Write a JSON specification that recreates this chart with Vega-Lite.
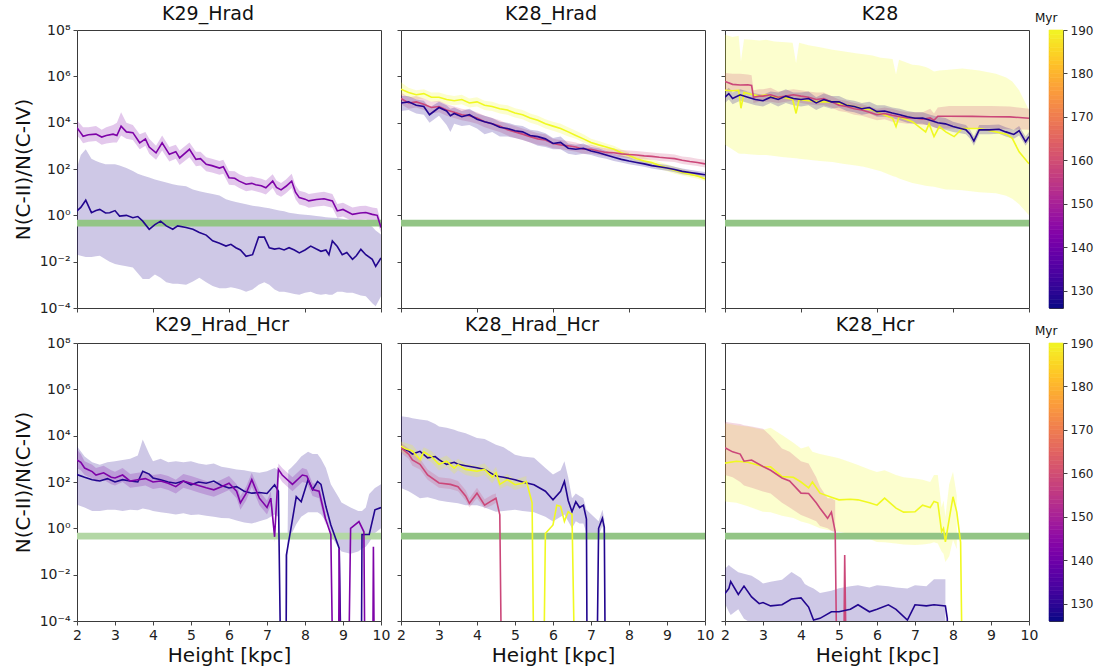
{
"$schema":"https://vega.github.io/schema/vega-lite/v6.json",
"padding":{"left":12,"top":4,"right":5,"bottom":3},
"config":{"font":"DejaVu Sans","view":{"stroke":"#3a3a3a","strokeWidth":1},
"axis":{"grid":false,"domain":false,"tickColor":"#444","tickSize":4,"labelColor":"#222","titleColor":"#111","labelFontSize":14,"titleFontSize":20,"titleFontWeight":"normal","labelPadding":3,"labelOverlap":false},
"axisX":{"labelFontSize":14,"titlePadding":3,"labelOverlap":false},
"axisY":{"titlePadding":6,"labelOverlap":false},
"title":{"fontSize":19,"fontWeight":"normal","color":"#111","offset":6,"frame":"group","baseline":"alphabetic"}},
"columns":4,
"align":"each",
"spacing":{"row":35,"column":20},
"bounds":"flush",
"resolve":{"scale":{"color":"independent"},"legend":{"color":"independent"}},
"datasets":{
"bar":[
{"v":126,"w":127},{"v":127,"w":128},{"v":128,"w":129},{"v":129,"w":130},{"v":130,"w":131},{"v":131,"w":132},{"v":132,"w":133},{"v":133,"w":134},
{"v":134,"w":135},{"v":135,"w":136},{"v":136,"w":137},{"v":137,"w":138},{"v":138,"w":139},{"v":139,"w":140},{"v":140,"w":141},{"v":141,"w":142},
{"v":142,"w":143},{"v":143,"w":144},{"v":144,"w":145},{"v":145,"w":146},{"v":146,"w":147},{"v":147,"w":148},{"v":148,"w":149},{"v":149,"w":150},
{"v":150,"w":151},{"v":151,"w":152},{"v":152,"w":153},{"v":153,"w":154},{"v":154,"w":155},{"v":155,"w":156},{"v":156,"w":157},{"v":157,"w":158},
{"v":158,"w":159},{"v":159,"w":160},{"v":160,"w":161},{"v":161,"w":162},{"v":162,"w":163},{"v":163,"w":164},{"v":164,"w":165},{"v":165,"w":166},
{"v":166,"w":167},{"v":167,"w":168},{"v":168,"w":169},{"v":169,"w":170},{"v":170,"w":171},{"v":171,"w":172},{"v":172,"w":173},{"v":173,"w":174},
{"v":174,"w":175},{"v":175,"w":176},{"v":176,"w":177},{"v":177,"w":178},{"v":178,"w":179},{"v":179,"w":180},{"v":180,"w":181},{"v":181,"w":182},
{"v":182,"w":183},{"v":183,"w":184},{"v":184,"w":185},{"v":185,"w":186},{"v":186,"w":187},{"v":187,"w":188},{"v":188,"w":189},{"v":189,"w":190}
],
"A":[
{"t":142,"x":2,"y":6.0e3,"l":2.8e3,"h":1.26e4},
{"t":142,"x":2.08,"y":4.0e3,"l":2.0e3,"h":8.9e3},
{"t":142,"x":2.16,"y":2.6e3,"l":1.3e3,"h":6.3e3},
{"t":142,"x":2.3,"y":3.0e3,"l":1.5e3,"h":6.3e3},
{"t":142,"x":2.5,"y":3.2e3,"l":1.6e3,"h":7.1e3},
{"t":142,"x":2.65,"y":2.4e3,"l":1.1e3,"h":5.0e3},
{"t":142,"x":2.77,"y":2.8e3,"l":1.26e3,"h":6.3e3},
{"t":142,"x":2.95,"y":3.2e3,"l":1.4e3,"h":7.9e3},
{"t":142,"x":3.05,"y":2.8e3,"l":1.4e3,"h":1.0e4},
{"t":142,"x":3.16,"y":7.1e3,"l":2.8e3,"h":2.8e4},
{"t":142,"x":3.3,"y":4.0e3,"l":2.0e3,"h":1.0e4},
{"t":142,"x":3.47,"y":3.7e3,"l":1.8e3,"h":7.9e3},
{"t":142,"x":3.65,"y":1.35e3,"l":7.1e2,"h":3.2e3},
{"t":142,"x":3.8,"y":2.0e3,"l":1.0e3,"h":4.0e3},
{"t":142,"x":3.9,"y":8.9e2,"l":4.5e2,"h":2.0e3},
{"t":142,"x":4.08,"y":5.0e2,"l":2.5e2,"h":1.0e3},
{"t":142,"x":4.24,"y":1.35e3,"l":6.3e2,"h":2.8e3},
{"t":142,"x":4.43,"y":4.3e2,"l":2.1e2,"h":8.9e2},
{"t":142,"x":4.6,"y":5.6e2,"l":2.8e2,"h":1.1e3},
{"t":142,"x":4.7,"y":3.0e2,"l":1.5e2,"h":6.3e2},
{"t":142,"x":4.96,"y":7.1e2,"l":3.2e2,"h":1.4e3},
{"t":142,"x":5.13,"y":2.6e2,"l":1.3e2,"h":5.6e2},
{"t":142,"x":5.25,"y":2.8e2,"l":1.4e2,"h":5.6e2},
{"t":142,"x":5.4,"y":1.6e2,"l":79,"h":3.2e2},
{"t":142,"x":5.55,"y":1.4e2,"l":71,"h":2.8e2},
{"t":142,"x":5.75,"y":1.1e2,"l":56,"h":2.2e2},
{"t":142,"x":5.85,"y":1.26e2,"l":63,"h":2.5e2},
{"t":142,"x":6.0,"y":42,"l":21,"h":83},
{"t":142,"x":6.15,"y":40,"l":20,"h":79},
{"t":142,"x":6.27,"y":30,"l":15,"h":59},
{"t":142,"x":6.45,"y":22,"l":11,"h":45},
{"t":142,"x":6.6,"y":24,"l":12,"h":48},
{"t":142,"x":6.7,"y":21,"l":11,"h":43},
{"t":142,"x":6.85,"y":19,"l":9.5,"h":38},
{"t":142,"x":6.97,"y":15.5,"l":7.9,"h":32},
{"t":142,"x":7.15,"y":30,"l":15,"h":60},
{"t":142,"x":7.25,"y":16,"l":7.9,"h":32},
{"t":142,"x":7.37,"y":12.6,"l":6.3,"h":25},
{"t":142,"x":7.5,"y":18,"l":8.9,"h":35},
{"t":142,"x":7.65,"y":30,"l":15,"h":63},
{"t":142,"x":7.75,"y":10,"l":5,"h":20},
{"t":142,"x":7.85,"y":5.8,"l":2.9,"h":11.5},
{"t":142,"x":8.0,"y":5.0,"l":2.5,"h":10},
{"t":142,"x":8.1,"y":4.2,"l":2.1,"h":8.3},
{"t":142,"x":8.3,"y":4.8,"l":2.4,"h":9.5},
{"t":142,"x":8.5,"y":5.2,"l":2.6,"h":10.5},
{"t":142,"x":8.72,"y":4.2,"l":2.1,"h":8.3},
{"t":142,"x":8.85,"y":1.55,"l":0.78,"h":3.1},
{"t":142,"x":9.0,"y":1.8,"l":0.89,"h":3.5},
{"t":142,"x":9.25,"y":1.1,"l":0.55,"h":2.2},
{"t":142,"x":9.45,"y":1.26,"l":0.63,"h":2.5},
{"t":142,"x":9.6,"y":1.32,"l":0.66,"h":2.6},
{"t":142,"x":9.77,"y":1.1,"l":0.55,"h":2.2},
{"t":142,"x":9.9,"y":1.0,"l":0.5,"h":2.0},
{"t":142,"x":10,"y":0.3,"l":0.18,"h":0.5},
{"t":128,"x":2,"y":1.55,"l":0.02,"h":115},
{"t":128,"x":2.1,"y":2.2,"l":0.018,"h":400},
{"t":128,"x":2.23,"y":4.5,"l":0.016,"h":710},
{"t":128,"x":2.38,"y":1.3,"l":0.016,"h":280},
{"t":128,"x":2.5,"y":1.6,"l":0.017,"h":220},
{"t":128,"x":2.6,"y":1.8,"l":0.018,"h":190},
{"t":128,"x":2.75,"y":1.26,"l":0.0126,"h":160},
{"t":128,"x":2.86,"y":1.3,"l":0.01,"h":160},
{"t":128,"x":3.0,"y":1.6,"l":0.0079,"h":160},
{"t":128,"x":3.12,"y":0.93,"l":0.0071,"h":140},
{"t":128,"x":3.3,"y":1.0,"l":0.0063,"h":110},
{"t":128,"x":3.47,"y":0.79,"l":0.0056,"h":83},
{"t":128,"x":3.6,"y":0.89,"l":0.0032,"h":63},
{"t":128,"x":3.73,"y":0.56,"l":0.0018,"h":52},
{"t":128,"x":3.9,"y":0.25,"l":0.0018,"h":43},
{"t":128,"x":4.05,"y":0.4,"l":0.0028,"h":35},
{"t":128,"x":4.2,"y":0.56,"l":0.002,"h":30},
{"t":128,"x":4.35,"y":0.35,"l":0.0013,"h":26},
{"t":128,"x":4.52,"y":0.25,"l":0.0011,"h":22},
{"t":128,"x":4.65,"y":0.35,"l":0.0011,"h":20},
{"t":128,"x":4.87,"y":0.3,"l":0.001,"h":18},
{"t":128,"x":5.05,"y":0.25,"l":0.0014,"h":13},
{"t":128,"x":5.22,"y":0.18,"l":0.002,"h":11},
{"t":128,"x":5.4,"y":0.14,"l":0.0013,"h":9.5},
{"t":128,"x":5.57,"y":0.079,"l":0.00089,"h":8.3},
{"t":128,"x":5.75,"y":0.063,"l":0.00072,"h":7.1},
{"t":128,"x":5.92,"y":0.047,"l":0.00072,"h":5},
{"t":128,"x":6.05,"y":0.056,"l":0.00079,"h":4.3},
{"t":128,"x":6.18,"y":0.04,"l":0.00071,"h":3.8},
{"t":128,"x":6.3,"y":0.032,"l":0.00063,"h":3.4},
{"t":128,"x":6.45,"y":0.017,"l":0.0005,"h":3.0},
{"t":128,"x":6.62,"y":0.02,"l":0.00063,"h":2.6},
{"t":128,"x":6.78,"y":0.115,"l":0.001,"h":2.4},
{"t":128,"x":6.93,"y":0.115,"l":0.0013,"h":2.2},
{"t":128,"x":7.06,"y":0.04,"l":0.001,"h":2.0},
{"t":128,"x":7.2,"y":0.035,"l":0.00063,"h":1.8},
{"t":128,"x":7.32,"y":0.038,"l":0.0005,"h":1.6},
{"t":128,"x":7.45,"y":0.032,"l":0.0005,"h":1.5},
{"t":128,"x":7.58,"y":0.04,"l":0.00045,"h":1.3},
{"t":128,"x":7.72,"y":0.032,"l":0.0004,"h":1.2},
{"t":128,"x":7.85,"y":0.024,"l":0.00037,"h":1.1},
{"t":128,"x":8.0,"y":0.032,"l":0.00045,"h":1.05},
{"t":128,"x":8.15,"y":0.047,"l":0.0005,"h":1.0},
{"t":128,"x":8.3,"y":0.035,"l":0.0004,"h":0.93},
{"t":128,"x":8.42,"y":0.028,"l":0.00037,"h":0.89},
{"t":128,"x":8.55,"y":0.032,"l":0.0004,"h":0.83},
{"t":128,"x":8.63,"y":0.02,"l":0.00037,"h":0.81},
{"t":128,"x":8.72,"y":0.079,"l":0.00037,"h":0.79},
{"t":128,"x":8.85,"y":0.045,"l":0.0005,"h":0.76},
{"t":128,"x":8.98,"y":0.02,"l":0.0005,"h":0.71},
{"t":128,"x":9.1,"y":0.025,"l":0.00045,"h":0.66},
{"t":128,"x":9.25,"y":0.0126,"l":0.00045,"h":0.63},
{"t":128,"x":9.35,"y":0.018,"l":0.0004,"h":0.56},
{"t":128,"x":9.47,"y":0.034,"l":0.00035,"h":0.52},
{"t":128,"x":9.6,"y":0.02,"l":0.00032,"h":0.48},
{"t":128,"x":9.77,"y":0.0126,"l":0.00016,"h":0.32},
{"t":128,"x":9.86,"y":0.0063,"l":0.00012,"h":0.22},
{"t":128,"x":10,"y":0.0145,"l":0.00032,"h":0.15}
],
"B":[
{"t":190,"x":2,"y":2.8e5,"l":1.6e5,"h":5.6e5},
{"t":190,"x":2.2,"y":2.0e5,"l":1.26e5,"h":3.2e5},
{"t":190,"x":2.4,"y":1.6e5,"l":1.0e5,"h":2.5e5},
{"t":190,"x":2.6,"y":1.8e5,"l":1.1e5,"h":2.8e5},
{"t":190,"x":2.8,"y":1.26e5,"l":7.9e4,"h":2.0e5},
{"t":190,"x":3.0,"y":1.26e5,"l":7.9e4,"h":2.0e5},
{"t":190,"x":3.2,"y":1.0e5,"l":6.3e4,"h":1.6e5},
{"t":190,"x":3.4,"y":8.9e4,"l":5.6e4,"h":1.4e5},
{"t":190,"x":3.6,"y":1.0e5,"l":6.3e4,"h":1.6e5},
{"t":190,"x":3.8,"y":7.1e4,"l":4.5e4,"h":1.1e5},
{"t":190,"x":4.0,"y":7.9e4,"l":5.0e4,"h":1.26e5},
{"t":190,"x":4.2,"y":5.6e4,"l":3.5e4,"h":8.9e4},
{"t":190,"x":4.4,"y":5.0e4,"l":3.2e4,"h":7.9e4},
{"t":190,"x":4.6,"y":4.0e4,"l":2.5e4,"h":6.3e4},
{"t":190,"x":4.8,"y":3.5e4,"l":2.2e4,"h":5.6e4},
{"t":190,"x":5.0,"y":2.6e4,"l":1.66e4,"h":4.2e4},
{"t":190,"x":5.2,"y":2.2e4,"l":1.4e4,"h":3.5e4},
{"t":190,"x":5.4,"y":1.6e4,"l":1.0e4,"h":2.5e4},
{"t":190,"x":5.6,"y":1.26e4,"l":7.9e3,"h":2.0e4},
{"t":190,"x":5.8,"y":8.9e3,"l":5.6e3,"h":1.4e4},
{"t":190,"x":6.0,"y":7.1e3,"l":4.5e3,"h":1.1e4},
{"t":190,"x":6.2,"y":5.6e3,"l":3.5e3,"h":8.9e3},
{"t":190,"x":6.4,"y":4.0e3,"l":2.5e3,"h":6.3e3},
{"t":190,"x":6.6,"y":2.8e3,"l":2.0e3,"h":4.5e3},
{"t":190,"x":6.8,"y":2.0e3,"l":1.4e3,"h":3.2e3},
{"t":190,"x":7.0,"y":1.4e3,"l":1.0e3,"h":2.0e3},
{"t":190,"x":7.2,"y":1.1e3,"l":7.9e2,"h":1.6e3},
{"t":190,"x":7.4,"y":8.9e2,"l":6.3e2,"h":1.26e3},
{"t":190,"x":7.6,"y":7.1e2,"l":5.0e2,"h":1.0e3},
{"t":190,"x":7.8,"y":5.0e2,"l":3.5e2,"h":7.1e2},
{"t":190,"x":8.0,"y":3.8e2,"l":2.8e2,"h":5.2e2},
{"t":190,"x":8.2,"y":2.8e2,"l":2.0e2,"h":4.0e2},
{"t":190,"x":8.4,"y":2.2e2,"l":1.6e2,"h":3.2e2},
{"t":190,"x":8.6,"y":1.9e2,"l":1.4e2,"h":2.6e2},
{"t":190,"x":8.8,"y":1.4e2,"l":1.0e2,"h":2.0e2},
{"t":190,"x":9.0,"y":1.1e2,"l":79,"h":1.6e2},
{"t":190,"x":9.2,"y":89,"l":63,"h":1.26e2},
{"t":190,"x":9.4,"y":71,"l":52,"h":1.0e2},
{"t":190,"x":9.6,"y":60,"l":45,"h":83},
{"t":190,"x":9.8,"y":50,"l":38,"h":66},
{"t":190,"x":10,"y":38,"l":30,"h":50},
{"t":158,"x":2,"y":1.1e5,"l":6.3e4,"h":2.0e5},
{"t":158,"x":2.2,"y":7.1e4,"l":4.0e4,"h":1.26e5},
{"t":158,"x":2.4,"y":7.9e4,"l":4.5e4,"h":1.4e5},
{"t":158,"x":2.6,"y":6.3e4,"l":3.5e4,"h":1.1e5},
{"t":158,"x":2.8,"y":4.5e4,"l":2.5e4,"h":7.9e4},
{"t":158,"x":3.0,"y":5.0e4,"l":2.8e4,"h":8.9e4},
{"t":158,"x":3.2,"y":3.5e4,"l":2.0e4,"h":6.3e4},
{"t":158,"x":3.4,"y":2.8e4,"l":1.6e4,"h":5.0e4},
{"t":158,"x":3.6,"y":2.2e4,"l":1.26e4,"h":4.0e4},
{"t":158,"x":3.8,"y":2.0e4,"l":1.1e4,"h":3.5e4},
{"t":158,"x":4.0,"y":1.6e4,"l":8.9e3,"h":2.8e4},
{"t":158,"x":4.2,"y":1.1e4,"l":6.3e3,"h":2.0e4},
{"t":158,"x":4.4,"y":8.9e3,"l":5.0e3,"h":1.6e4},
{"t":158,"x":4.6,"y":7.1e3,"l":4.0e3,"h":1.26e4},
{"t":158,"x":4.8,"y":5.0e3,"l":2.8e3,"h":8.9e3},
{"t":158,"x":5.0,"y":4.0e3,"l":2.2e3,"h":7.1e3},
{"t":158,"x":5.2,"y":3.2e3,"l":1.8e3,"h":5.6e3},
{"t":158,"x":5.4,"y":2.5e3,"l":1.4e3,"h":4.5e3},
{"t":158,"x":5.6,"y":2.0e3,"l":1.1e3,"h":3.5e3},
{"t":158,"x":5.8,"y":1.8e3,"l":1.0e3,"h":3.2e3},
{"t":158,"x":6.0,"y":1.26e3,"l":7.9e2,"h":2.0e3},
{"t":158,"x":6.2,"y":1.1e3,"l":7.1e2,"h":1.8e3},
{"t":158,"x":6.4,"y":1.0e3,"l":6.3e2,"h":1.6e3},
{"t":158,"x":6.6,"y":8.9e2,"l":5.6e2,"h":1.4e3},
{"t":158,"x":6.8,"y":7.1e2,"l":4.5e2,"h":1.1e3},
{"t":158,"x":7.0,"y":7.1e2,"l":4.5e2,"h":1.1e3},
{"t":158,"x":7.2,"y":6.0e2,"l":4.0e2,"h":8.9e2},
{"t":158,"x":7.4,"y":5.2e2,"l":3.5e2,"h":7.9e2},
{"t":158,"x":7.6,"y":5.0e2,"l":3.5e2,"h":7.6e2},
{"t":158,"x":7.8,"y":4.5e2,"l":3.2e2,"h":6.6e2},
{"t":158,"x":8.0,"y":4.2e2,"l":3.0e2,"h":6.3e2},
{"t":158,"x":8.2,"y":4.0e2,"l":2.8e2,"h":6.0e2},
{"t":158,"x":8.4,"y":3.7e2,"l":2.6e2,"h":5.6e2},
{"t":158,"x":8.6,"y":3.5e2,"l":2.5e2,"h":5.2e2},
{"t":158,"x":8.8,"y":3.2e2,"l":2.2e2,"h":4.8e2},
{"t":158,"x":9.0,"y":3.0e2,"l":2.1e2,"h":4.5e2},
{"t":158,"x":9.2,"y":2.8e2,"l":2.0e2,"h":4.2e2},
{"t":158,"x":9.4,"y":2.4e2,"l":1.66e2,"h":3.5e2},
{"t":158,"x":9.6,"y":2.1e2,"l":1.5e2,"h":3.2e2},
{"t":158,"x":9.8,"y":1.9e2,"l":1.35e2,"h":2.8e2},
{"t":158,"x":10,"y":1.66e2,"l":1.17e2,"h":2.5e2},
{"t":128,"x":2,"y":7.1e4,"l":3.2e4,"h":1.4e5},
{"t":128,"x":2.2,"y":7.9e4,"l":3.5e4,"h":1.4e5},
{"t":128,"x":2.4,"y":5.6e4,"l":2.5e4,"h":1.0e5},
{"t":128,"x":2.6,"y":5.0e4,"l":2.2e4,"h":8.9e4},
{"t":128,"x":2.75,"y":2.2e4,"l":1.0e4,"h":4.5e4},
{"t":128,"x":3.0,"y":4.5e4,"l":2.0e4,"h":7.9e4},
{"t":128,"x":3.2,"y":3.2e4,"l":7.9e3,"h":5.6e4},
{"t":128,"x":3.3,"y":2.0e4,"l":4.0e3,"h":4.0e4},
{"t":128,"x":3.4,"y":2.5e4,"l":8.9e3,"h":4.5e4},
{"t":128,"x":3.6,"y":1.8e4,"l":7.1e3,"h":3.2e4},
{"t":128,"x":3.8,"y":2.2e4,"l":7.9e3,"h":4.0e4},
{"t":128,"x":4.0,"y":1.4e4,"l":5.6e3,"h":2.5e4},
{"t":128,"x":4.2,"y":1.1e4,"l":3.2e3,"h":2.0e4},
{"t":128,"x":4.4,"y":8.9e3,"l":4.0e3,"h":1.6e4},
{"t":128,"x":4.6,"y":6.3e3,"l":2.5e3,"h":1.1e4},
{"t":128,"x":4.8,"y":5.6e3,"l":2.5e3,"h":1.0e4},
{"t":128,"x":5.0,"y":4.5e3,"l":2.2e3,"h":7.9e3},
{"t":128,"x":5.2,"y":4.0e3,"l":1.8e3,"h":7.1e3},
{"t":128,"x":5.4,"y":2.8e3,"l":1.4e3,"h":5.0e3},
{"t":128,"x":5.6,"y":2.5e3,"l":1.0e3,"h":4.5e3},
{"t":128,"x":5.8,"y":2.0e3,"l":8.9e2,"h":3.5e3},
{"t":128,"x":6.0,"y":1.26e3,"l":7.1e2,"h":2.2e3},
{"t":128,"x":6.2,"y":1.4e3,"l":7.1e2,"h":2.5e3},
{"t":128,"x":6.4,"y":7.9e2,"l":4.5e2,"h":1.26e3},
{"t":128,"x":6.6,"y":7.1e2,"l":4.0e2,"h":1.1e3},
{"t":128,"x":6.8,"y":7.9e2,"l":4.5e2,"h":1.26e3},
{"t":128,"x":7.0,"y":6.0e2,"l":4.0e2,"h":8.9e2},
{"t":128,"x":7.2,"y":5.0e2,"l":3.2e2,"h":7.9e2},
{"t":128,"x":7.4,"y":4.0e2,"l":2.8e2,"h":6.0e2},
{"t":128,"x":7.6,"y":3.2e2,"l":2.2e2,"h":4.5e2},
{"t":128,"x":7.8,"y":2.6e2,"l":1.9e2,"h":3.8e2},
{"t":128,"x":8.0,"y":2.2e2,"l":1.6e2,"h":3.2e2},
{"t":128,"x":8.2,"y":1.9e2,"l":1.4e2,"h":2.6e2},
{"t":128,"x":8.4,"y":1.66e2,"l":1.26e2,"h":2.3e2},
{"t":128,"x":8.6,"y":1.4e2,"l":1.05e2,"h":1.9e2},
{"t":128,"x":8.8,"y":1.26e2,"l":93,"h":1.66e2},
{"t":128,"x":9.0,"y":1.1e2,"l":85,"h":1.5e2},
{"t":128,"x":9.2,"y":95,"l":72,"h":1.26e2},
{"t":128,"x":9.4,"y":79,"l":60,"h":1.05e2},
{"t":128,"x":9.6,"y":71,"l":54,"h":93},
{"t":128,"x":9.8,"y":63,"l":48,"h":83},
{"t":128,"x":10,"y":56,"l":43,"h":74}
],
"C":[
{"t":190,"x":2,"y":2.5e5,"l":1.1e3,"h":6.3e7},
{"t":190,"x":2.2,"y":2.4e5,"l":7.0e2,"h":5.0e7},
{"t":190,"x":2.36,"y":2.5e5,"l":4.7e2,"h":5.6e7},
{"t":190,"x":2.42,"y":4.2e4,"l":4.6e2,"h":4.5e6},
{"t":190,"x":2.5,"y":2.0e5,"l":4.5e2,"h":4.0e7},
{"t":190,"x":2.7,"y":1.66e5,"l":4.2e2,"h":3.8e7},
{"t":190,"x":2.9,"y":1.4e5,"l":4.0e2,"h":3.5e7},
{"t":190,"x":3.08,"y":1.6e5,"l":4.0e2,"h":3.8e7},
{"t":190,"x":3.3,"y":1.26e5,"l":3.6e2,"h":3.2e7},
{"t":190,"x":3.5,"y":1.3e5,"l":3.3e2,"h":3.0e7},
{"t":190,"x":3.78,"y":1.0e5,"l":3.0e2,"h":2.8e7},
{"t":190,"x":3.87,"y":2.5e4,"l":2.9e2,"h":3.7e6},
{"t":190,"x":3.95,"y":1.0e5,"l":2.8e2,"h":2.8e7},
{"t":190,"x":4.2,"y":8.9e4,"l":2.5e2,"h":2.2e7},
{"t":190,"x":4.5,"y":7.9e4,"l":2.2e2,"h":1.8e7},
{"t":190,"x":4.83,"y":8.1e4,"l":2.0e2,"h":1.4e7},
{"t":190,"x":5.1,"y":6.3e4,"l":1.7e2,"h":1.2e7},
{"t":190,"x":5.44,"y":4.9e4,"l":1.4e2,"h":1.0e7},
{"t":190,"x":5.65,"y":4.0e4,"l":1.26e2,"h":8.9e6},
{"t":190,"x":5.88,"y":3.5e4,"l":1.0e2,"h":7.9e6},
{"t":190,"x":6.1,"y":2.5e4,"l":79,"h":6.3e6},
{"t":190,"x":6.41,"y":1.55e4,"l":50,"h":5.6e6},
{"t":190,"x":6.5,"y":6.8e3,"l":45,"h":1.2e6},
{"t":190,"x":6.58,"y":1.8e4,"l":39,"h":5.2e6},
{"t":190,"x":6.93,"y":1.1e4,"l":25,"h":3.2e6},
{"t":190,"x":7.1,"y":6.8e3,"l":22,"h":3.0e6},
{"t":190,"x":7.28,"y":4.0e3,"l":19,"h":2.5e6},
{"t":190,"x":7.37,"y":8.9e3,"l":18,"h":2.2e6},
{"t":190,"x":7.5,"y":2.5e3,"l":17,"h":1.6e6},
{"t":190,"x":7.64,"y":6.8e3,"l":15,"h":1.8e6},
{"t":190,"x":7.81,"y":4.0e3,"l":13,"h":1.9e6},
{"t":190,"x":8.03,"y":2.5e3,"l":12.6,"h":2.0e6},
{"t":190,"x":8.25,"y":5.6e3,"l":12,"h":2.2e6},
{"t":190,"x":8.69,"y":5.6e3,"l":10,"h":1.8e6},
{"t":190,"x":9.13,"y":4.0e3,"l":8.9,"h":1.3e6},
{"t":190,"x":9.4,"y":3.2e3,"l":7,"h":8.9e5},
{"t":190,"x":9.56,"y":2.1e3,"l":5.2,"h":6.0e5},
{"t":190,"x":9.74,"y":5.5e2,"l":3,"h":2.5e5},
{"t":190,"x":10,"y":1.7e2,"l":1,"h":3.5e4},
{"t":158,"x":2,"y":6.0e5,"l":2.2e5,"h":1.4e6},
{"t":158,"x":2.2,"y":4.5e5,"l":2.2e5,"h":1.3e6},
{"t":158,"x":2.4,"y":4.2e5,"l":2.2e5,"h":1.3e6},
{"t":158,"x":2.6,"y":4.3e5,"l":2.2e5,"h":1.2e6},
{"t":158,"x":2.7,"y":4.0e5,"l":2.0e5,"h":1.1e6},
{"t":158,"x":2.75,"y":1.26e5,"l":7.1e4,"h":2.5e5},
{"t":158,"x":2.9,"y":1.4e5,"l":7.9e4,"h":2.8e5},
{"t":158,"x":3.0,"y":1.4e5,"l":7.9e4,"h":2.8e5},
{"t":158,"x":3.2,"y":1.6e5,"l":7.9e4,"h":3.2e5},
{"t":158,"x":3.4,"y":1.26e5,"l":7.1e4,"h":2.2e5},
{"t":158,"x":3.6,"y":1.4e5,"l":7.9e4,"h":2.5e5},
{"t":158,"x":3.8,"y":1.6e5,"l":8.9e4,"h":2.8e5},
{"t":158,"x":4.0,"y":1.4e5,"l":7.1e4,"h":2.5e5},
{"t":158,"x":4.2,"y":1.26e5,"l":6.3e4,"h":2.2e5},
{"t":158,"x":4.4,"y":1.0e5,"l":5.6e4,"h":2.0e5},
{"t":158,"x":4.6,"y":1.1e5,"l":5.6e4,"h":2.0e5},
{"t":158,"x":4.8,"y":7.9e4,"l":4.5e4,"h":1.4e5},
{"t":158,"x":5.0,"y":5.6e4,"l":3.2e4,"h":1.0e5},
{"t":158,"x":5.2,"y":5.0e4,"l":2.8e4,"h":8.9e4},
{"t":158,"x":5.4,"y":4.0e4,"l":2.2e4,"h":7.1e4},
{"t":158,"x":5.6,"y":3.5e4,"l":2.0e4,"h":6.3e4},
{"t":158,"x":5.8,"y":2.8e4,"l":1.6e4,"h":5.0e4},
{"t":158,"x":6.0,"y":2.2e4,"l":1.26e4,"h":4.0e4},
{"t":158,"x":6.2,"y":2.5e4,"l":1.4e4,"h":4.5e4},
{"t":158,"x":6.4,"y":2.1e4,"l":1.1e4,"h":4.0e4},
{"t":158,"x":6.6,"y":1.8e4,"l":1.0e4,"h":3.2e4},
{"t":158,"x":6.8,"y":1.6e4,"l":8.9e3,"h":2.8e4},
{"t":158,"x":7.0,"y":1.6e4,"l":8.9e3,"h":2.8e4},
{"t":158,"x":7.2,"y":1.4e4,"l":7.9e3,"h":2.8e4},
{"t":158,"x":7.4,"y":1.6e4,"l":7.9e3,"h":4.0e4},
{"t":158,"x":7.5,"y":1.26e4,"l":6.3e3,"h":2.5e4},
{"t":158,"x":7.6,"y":1.9e4,"l":5.6e3,"h":4.5e4},
{"t":158,"x":7.9,"y":1.9e4,"l":5.6e3,"h":5.2e4},
{"t":158,"x":8.5,"y":1.86e4,"l":5.6e3,"h":5.2e4},
{"t":158,"x":9.0,"y":1.8e4,"l":5.6e3,"h":5.2e4},
{"t":158,"x":9.5,"y":1.78e4,"l":5.2e3,"h":5.0e4},
{"t":158,"x":10,"y":1.55e4,"l":5.0e3,"h":4.0e4},
{"t":128,"x":2,"y":1.26e5,"l":7.1e4,"h":2.2e5},
{"t":128,"x":2.1,"y":1.8e5,"l":1.0e5,"h":3.2e5},
{"t":128,"x":2.2,"y":1.1e5,"l":6.3e4,"h":2.0e5},
{"t":128,"x":2.4,"y":1.6e5,"l":8.9e4,"h":2.8e5},
{"t":128,"x":2.6,"y":1.26e5,"l":7.1e4,"h":2.2e5},
{"t":128,"x":2.8,"y":1.0e5,"l":5.6e4,"h":1.8e5},
{"t":128,"x":3.0,"y":8.9e4,"l":5.0e4,"h":1.6e5},
{"t":128,"x":3.2,"y":1.26e5,"l":7.1e4,"h":2.2e5},
{"t":128,"x":3.4,"y":1.0e5,"l":5.0e4,"h":2.0e5},
{"t":128,"x":3.6,"y":1.4e5,"l":7.1e4,"h":2.8e5},
{"t":128,"x":3.8,"y":1.1e5,"l":5.6e4,"h":2.0e5},
{"t":128,"x":4.0,"y":1.0e5,"l":5.0e4,"h":2.0e5},
{"t":128,"x":4.2,"y":1.1e5,"l":5.6e4,"h":2.2e5},
{"t":128,"x":4.4,"y":7.1e4,"l":3.5e4,"h":1.26e5},
{"t":128,"x":4.6,"y":1.0e5,"l":5.0e4,"h":1.8e5},
{"t":128,"x":4.8,"y":7.9e4,"l":4.0e4,"h":1.4e5},
{"t":128,"x":5.0,"y":7.9e4,"l":4.5e4,"h":1.4e5},
{"t":128,"x":5.2,"y":5.6e4,"l":3.2e4,"h":1.0e5},
{"t":128,"x":5.4,"y":5.0e4,"l":2.8e4,"h":8.9e4},
{"t":128,"x":5.6,"y":4.0e4,"l":2.2e4,"h":7.1e4},
{"t":128,"x":5.8,"y":4.5e4,"l":2.5e4,"h":7.9e4},
{"t":128,"x":6.0,"y":3.0e4,"l":1.8e4,"h":5.6e4},
{"t":128,"x":6.2,"y":3.2e4,"l":1.8e4,"h":5.6e4},
{"t":128,"x":6.4,"y":2.6e4,"l":1.6e4,"h":4.5e4},
{"t":128,"x":6.6,"y":2.2e4,"l":1.26e4,"h":4.0e4},
{"t":128,"x":6.8,"y":1.8e4,"l":1.0e4,"h":3.2e4},
{"t":128,"x":7.0,"y":1.55e4,"l":8.9e3,"h":2.8e4},
{"t":128,"x":7.2,"y":1.6e4,"l":8.9e3,"h":2.8e4},
{"t":128,"x":7.4,"y":1.26e4,"l":7.1e3,"h":2.2e4},
{"t":128,"x":7.6,"y":1.0e4,"l":5.6e3,"h":1.8e4},
{"t":128,"x":7.8,"y":8.9e3,"l":5.0e3,"h":1.6e4},
{"t":128,"x":8.0,"y":6.8e3,"l":4.0e3,"h":1.1e4},
{"t":128,"x":8.2,"y":5.6e3,"l":3.5e3,"h":8.9e3},
{"t":128,"x":8.34,"y":4.9e3,"l":3.2e3,"h":7.9e3},
{"t":128,"x":8.45,"y":3.2e3,"l":2.0e3,"h":5.0e3},
{"t":128,"x":8.55,"y":1.6e3,"l":1.0e3,"h":2.5e3},
{"t":128,"x":8.69,"y":4.9e3,"l":3.2e3,"h":7.9e3},
{"t":128,"x":8.95,"y":4.9e3,"l":3.2e3,"h":7.9e3},
{"t":128,"x":9.21,"y":5.2e3,"l":3.3e3,"h":8.3e3},
{"t":128,"x":9.39,"y":4.0e3,"l":2.5e3,"h":6.3e3},
{"t":128,"x":9.6,"y":3.1e3,"l":2.0e3,"h":5.0e3},
{"t":128,"x":9.74,"y":4.5e3,"l":2.8e3,"h":7.1e3},
{"t":128,"x":9.91,"y":1.5e3,"l":1.0e3,"h":2.5e3},
{"t":128,"x":10,"y":2.5e3,"l":1.6e3,"h":4.0e3}
],
"D":[
{"t":128,"x":2,"y":210,"l":10.5,"h":3500},
{"t":128,"x":2.2,"y":160,"l":7.9,"h":1260},
{"t":128,"x":2.4,"y":126,"l":5.6,"h":710},
{"t":128,"x":2.6,"y":110,"l":5.6,"h":560},
{"t":128,"x":2.8,"y":140,"l":6.3,"h":710},
{"t":128,"x":3.0,"y":100,"l":6.3,"h":790},
{"t":128,"x":3.2,"y":126,"l":5.6,"h":890},
{"t":128,"x":3.4,"y":110,"l":6.3,"h":1000},
{"t":128,"x":3.6,"y":100,"l":6,"h":1400},
{"t":128,"x":3.73,"y":290,"l":7.1,"h":6800},
{"t":128,"x":3.9,"y":220,"l":6.3,"h":1600},
{"t":128,"x":4.0,"y":150,"l":5.6,"h":790},
{"t":128,"x":4.2,"y":126,"l":5,"h":1000},
{"t":128,"x":4.4,"y":100,"l":4.5,"h":710},
{"t":128,"x":4.6,"y":89,"l":4,"h":790},
{"t":128,"x":4.8,"y":110,"l":4.5,"h":710},
{"t":128,"x":5.0,"y":76,"l":3.8,"h":790},
{"t":128,"x":5.2,"y":100,"l":4,"h":630},
{"t":128,"x":5.4,"y":89,"l":3.5,"h":560},
{"t":128,"x":5.6,"y":110,"l":3.2,"h":630},
{"t":128,"x":5.8,"y":71,"l":2.8,"h":450},
{"t":128,"x":6.0,"y":55,"l":2.7,"h":400},
{"t":128,"x":6.2,"y":63,"l":2.2,"h":350},
{"t":128,"x":6.4,"y":40,"l":1.8,"h":320},
{"t":128,"x":6.6,"y":33,"l":1.6,"h":280},
{"t":128,"x":6.8,"y":35,"l":2,"h":250},
{"t":128,"x":7.0,"y":32,"l":2.5,"h":290},
{"t":128,"x":7.2,"y":76,"l":4,"h":400},
{"t":128,"x":7.3,"y":40,"l":3.2,"h":320},
{"t":128,"x":7.37,"y":1e-7,"l":1e-7,"h":1e-7},
{"t":128,"x":7.5,"y":1e-7,"l":1e-7,"h":1e-7},
{"t":128,"x":7.51,"y":0.07},
{"t":128,"x":7.56,"l":0.32,"h":320},
{"t":128,"x":7.63,"y":1.0,"l":0.5,"h":400},
{"t":128,"x":7.77,"y":23,"l":1.5,"h":700},
{"t":128,"x":7.9,"y":14,"l":3.2,"h":1260},
{"t":128,"x":8.08,"y":126,"l":5,"h":2000},
{"t":128,"x":8.2,"y":47,"l":5,"h":1600},
{"t":128,"x":8.33,"y":105,"l":5,"h":1600},
{"t":128,"x":8.42,"y":79,"l":4,"h":1000},
{"t":128,"x":8.55,"y":8.7,"l":2,"h":400},
{"t":128,"x":8.68,"y":1.4,"l":0.5,"h":80},
{"t":128,"x":8.9,"y":0.135,"l":0.13,"h":20},
{"t":128,"x":8.96,"y":1e-7,"l":0.1,"h":13},
{"t":128,"x":9.2,"l":0.08,"h":8},
{"t":128,"x":9.4,"l":0.1,"h":5.6},
{"t":128,"x":9.48,"y":1e-7},
{"t":128,"x":9.5,"y":0.54,"l":0.13,"h":5.6},
{"t":128,"x":9.6,"l":0.16,"h":8},
{"t":128,"x":9.69,"y":0.54,"l":0.25,"h":30},
{"t":128,"x":9.84,"y":6.3,"l":0.63,"h":55},
{"t":128,"x":10,"y":7.9,"l":1.0,"h":79},
{"t":142,"x":2,"y":890,"l":400,"h":2500},
{"t":142,"x":2.1,"y":710,"l":320,"h":1600},
{"t":142,"x":2.2,"y":400,"l":200,"h":790},
{"t":142,"x":2.4,"y":280,"l":140,"h":560},
{"t":142,"x":2.5,"y":200,"l":100,"h":400},
{"t":142,"x":2.7,"y":250,"l":126,"h":500},
{"t":142,"x":2.9,"y":160,"l":79,"h":320},
{"t":142,"x":3.0,"y":150,"l":71,"h":280},
{"t":142,"x":3.2,"y":200,"l":100,"h":400},
{"t":142,"x":3.4,"y":110,"l":56,"h":220},
{"t":142,"x":3.6,"y":126,"l":63,"h":250},
{"t":142,"x":3.8,"y":140,"l":71,"h":280},
{"t":142,"x":4.0,"y":100,"l":50,"h":200},
{"t":142,"x":4.2,"y":110,"l":56,"h":220},
{"t":142,"x":4.4,"y":89,"l":45,"h":180},
{"t":142,"x":4.6,"y":63,"l":32,"h":126},
{"t":142,"x":4.8,"y":110,"l":56,"h":220},
{"t":142,"x":5.0,"y":89,"l":45,"h":180},
{"t":142,"x":5.2,"y":71,"l":35,"h":140},
{"t":142,"x":5.4,"y":56,"l":28,"h":110},
{"t":142,"x":5.6,"y":46,"l":23,"h":91},
{"t":142,"x":5.8,"y":63,"l":32,"h":126},
{"t":142,"x":6.0,"y":89,"l":45,"h":180},
{"t":142,"x":6.2,"y":40,"l":20,"h":79},
{"t":142,"x":6.3,"y":12.6,"l":6.3,"h":25},
{"t":142,"x":6.45,"y":32,"l":16,"h":63},
{"t":142,"x":6.6,"y":126,"l":63,"h":250},
{"t":142,"x":6.8,"y":20,"l":10,"h":40},
{"t":142,"x":7.0,"y":7.9,"l":4,"h":16},
{"t":142,"x":7.1,"y":20,"l":10,"h":40},
{"t":142,"x":7.2,"y":0.43,"l":0.25,"h":0.8},
{"t":142,"x":7.3,"y":350,"l":180,"h":630},
{"t":142,"x":7.4,"y":200,"l":100,"h":400},
{"t":142,"x":7.67,"y":79,"l":40,"h":160},
{"t":142,"x":7.93,"y":200,"l":100,"h":400},
{"t":142,"x":8.05,"y":180,"l":89,"h":350},
{"t":142,"x":8.2,"y":47,"l":25,"h":89},
{"t":142,"x":8.37,"y":40,"l":20,"h":79},
{"t":142,"x":8.54,"y":2.6,"l":1.4,"h":5},
{"t":142,"x":8.68,"y":0.54},
{"t":142,"x":8.74,"y":1e-7},
{"t":142,"x":8.88,"y":1e-7},
{"t":142,"x":8.9,"y":0.135},
{"t":142,"x":8.93,"y":1e-7},
{"t":142,"x":9.14,"y":1e-7},
{"t":142,"x":9.2,"y":1.0},
{"t":142,"x":9.42,"y":1.95},
{"t":142,"x":9.55,"y":0.71},
{"t":142,"x":9.58,"y":1e-7},
{"t":142,"x":9.78,"y":1e-7},
{"t":142,"x":9.8,"y":0.16},
{"t":142,"x":9.83,"y":1e-7},
{"t":142,"x":10,"y":1e-7}
],
"E":[
{"t":128,"x":2,"y":3000,"l":55,"h":6.9e4},
{"t":128,"x":2.2,"y":2200,"l":40,"h":6.3e4},
{"t":128,"x":2.3,"y":1600,"l":32,"h":5.6e4},
{"t":128,"x":2.5,"y":2100,"l":20,"h":5.0e4},
{"t":128,"x":2.7,"y":1100,"l":22,"h":4.5e4},
{"t":128,"x":2.9,"y":1260,"l":18,"h":3.2e4},
{"t":128,"x":3.0,"y":930,"l":16,"h":2.5e4},
{"t":128,"x":3.2,"y":580,"l":14,"h":2.2e4},
{"t":128,"x":3.4,"y":710,"l":12.6,"h":1.8e4},
{"t":128,"x":3.5,"y":580,"l":12,"h":1.55e4},
{"t":128,"x":3.7,"y":500,"l":10,"h":1.26e4},
{"t":128,"x":4.0,"y":410,"l":10,"h":7.9e3},
{"t":128,"x":4.2,"y":350,"l":7.9,"h":7.1e3},
{"t":128,"x":4.5,"y":180,"l":5.2,"h":4.1e3},
{"t":128,"x":4.7,"y":160,"l":5.6,"h":3.2e3},
{"t":128,"x":5.0,"y":126,"l":6.3,"h":1.5e3},
{"t":128,"x":5.2,"y":100,"l":5.6,"h":1.26e3},
{"t":128,"x":5.5,"y":76,"l":5,"h":1.1e3},
{"t":128,"x":5.8,"y":40,"l":3.2,"h":400},
{"t":128,"x":6.0,"y":17,"l":1.95,"h":210},
{"t":128,"x":6.2,"y":40,"l":3.2,"h":320},
{"t":128,"x":6.3,"y":107,"l":4,"h":790},
{"t":128,"x":6.4,"y":16,"l":2,"h":160},
{"t":128,"x":6.5,"y":5.2,"l":1,"h":20},
{"t":128,"x":6.6,"y":14,"l":2,"h":32},
{"t":128,"x":6.7,"y":7.9,"l":1.6,"h":25},
{"t":128,"x":6.8,"y":10,"l":1.6,"h":20},
{"t":128,"x":6.88,"y":2.5,"l":0.63,"h":6.3},
{"t":128,"x":6.9,"y":1e-7},
{"t":128,"x":7.15,"y":1e-7},
{"t":128,"x":7.2,"y":1.0,"l":0.5,"h":2},
{"t":128,"x":7.3,"y":2.7,"l":1.26,"h":6.3},
{"t":128,"x":7.35,"y":1.1,"l":0.5,"h":2.5},
{"t":128,"x":7.38,"y":1e-7},
{"t":190,"x":2,"y":3500,"l":2000,"h":5600},
{"t":190,"x":2.1,"y":2800,"l":1600,"h":5000},
{"t":190,"x":2.3,"y":2200,"l":1260,"h":4000},
{"t":190,"x":2.5,"y":930,"l":560,"h":1600},
{"t":190,"x":2.6,"y":2000,"l":1100,"h":3200},
{"t":190,"x":2.8,"y":1260,"l":710,"h":2200},
{"t":190,"x":3.0,"y":580,"l":320,"h":1000},
{"t":190,"x":3.2,"y":790,"l":450,"h":1400},
{"t":190,"x":3.4,"y":400,"l":220,"h":710},
{"t":190,"x":3.5,"y":560,"l":320,"h":1000},
{"t":190,"x":3.7,"y":350,"l":200,"h":630},
{"t":190,"x":4.0,"y":290,"l":160,"h":500},
{"t":190,"x":4.2,"y":350,"l":200,"h":630},
{"t":190,"x":4.4,"y":160,"l":89,"h":280},
{"t":190,"x":4.5,"y":250,"l":140,"h":450},
{"t":190,"x":4.6,"y":79,"l":50,"h":140},
{"t":190,"x":4.8,"y":126,"l":71,"h":220},
{"t":190,"x":5.0,"y":76,"l":45,"h":126},
{"t":190,"x":5.2,"y":89,"l":56,"h":160},
{"t":190,"x":5.3,"y":107,"l":63,"h":180},
{"t":190,"x":5.45,"y":12.6},
{"t":190,"x":5.5,"y":1e-7},
{"t":190,"x":5.75,"y":1e-7},
{"t":190,"x":5.8,"y":0.6},
{"t":190,"x":6.0,"y":1.4},
{"t":190,"x":6.1,"y":10},
{"t":190,"x":6.2,"y":8.9},
{"t":190,"x":6.3,"y":2},
{"t":190,"x":6.4,"y":5.2},
{"t":190,"x":6.5,"y":4},
{"t":190,"x":6.58,"y":1e-7},
{"t":158,"x":2,"y":3000,"l":1800,"h":5000},
{"t":158,"x":2.2,"y":1600,"l":1000,"h":2800},
{"t":158,"x":2.3,"y":890,"l":500,"h":1600},
{"t":158,"x":2.5,"y":580,"l":350,"h":1000},
{"t":158,"x":2.7,"y":200,"l":126,"h":350},
{"t":158,"x":3.0,"y":91,"l":56,"h":160},
{"t":158,"x":3.3,"y":79,"l":50,"h":140},
{"t":158,"x":3.5,"y":63,"l":40,"h":110},
{"t":158,"x":3.7,"y":25,"l":16,"h":45},
{"t":158,"x":3.8,"y":12,"l":7.9,"h":20},
{"t":158,"x":4.0,"y":33,"l":20,"h":56},
{"t":158,"x":4.2,"y":10,"l":7.1,"h":18},
{"t":158,"x":4.4,"y":16,"l":10,"h":28},
{"t":158,"x":4.5,"y":20,"l":12.6,"h":32},
{"t":158,"x":4.6,"y":3.8},
{"t":158,"x":4.65,"y":1e-7}
],
"F":[
{"t":190,"x":2,"y":650,"l":14.5,"h":3.4e4},
{"t":190,"x":2.3,"y":790,"l":12.6,"h":2.8e4},
{"t":190,"x":2.6,"y":710,"l":8.9,"h":2.5e4},
{"t":190,"x":3.0,"y":470,"l":5.2,"h":1.8e4},
{"t":190,"x":3.2,"y":450,"l":5,"h":2.2e4},
{"t":190,"x":3.5,"y":170,"l":3.5,"h":1.07e4},
{"t":190,"x":3.8,"y":160,"l":2.8,"h":5000},
{"t":190,"x":4.0,"y":100,"l":1.95,"h":2800},
{"t":190,"x":4.2,"y":56,"l":1.6,"h":3500},
{"t":190,"x":4.3,"y":100,"l":1.4,"h":2000},
{"t":190,"x":4.5,"y":33,"l":1,"h":1600},
{"t":190,"x":4.8,"y":22,"l":0.79,"h":1260},
{"t":190,"x":5.0,"y":17,"l":0.71,"h":1050},
{"t":190,"x":5.3,"y":18,"l":0.56,"h":710},
{"t":190,"x":5.5,"y":17,"l":0.51,"h":540},
{"t":190,"x":5.8,"y":12.6,"l":0.35,"h":350},
{"t":190,"x":6.0,"y":10,"l":0.26,"h":270},
{"t":190,"x":6.2,"y":20,"l":0.25,"h":320},
{"t":190,"x":6.5,"y":7.4,"l":0.22,"h":200},
{"t":190,"x":6.7,"y":5,"l":0.2,"h":160},
{"t":190,"x":7.0,"y":5.2,"l":0.19,"h":140},
{"t":190,"x":7.2,"y":10,"l":0.2,"h":126},
{"t":190,"x":7.4,"y":7.9,"l":0.22,"h":100},
{"t":190,"x":7.5,"y":14.5,"l":0.25,"h":200},
{"t":190,"x":7.6,"y":12.6,"l":0.22,"h":200},
{"t":190,"x":7.7,"y":0.72,"l":0.1,"h":7.9},
{"t":190,"x":7.75,"y":1,"l":0.08,"h":16},
{"t":190,"x":7.8,"y":0.26,"l":0.035,"h":3.2},
{"t":190,"x":7.9,"y":2.5,"l":0.063,"h":79},
{"t":190,"x":8.0,"y":23,"l":0.32,"h":280},
{"t":190,"x":8.1,"y":5,"l":0.126,"h":25},
{"t":190,"x":8.2,"y":0.25},
{"t":190,"x":8.25,"y":1e-7},
{"t":158,"x":2,"y":3000,"l":200,"h":4.0e4},
{"t":158,"x":2.2,"y":2000,"l":160,"h":3.5e4},
{"t":158,"x":2.4,"y":1600,"l":100,"h":3.2e4},
{"t":158,"x":2.5,"y":790,"l":71,"h":2.8e4},
{"t":158,"x":2.7,"y":890,"l":56,"h":2.5e4},
{"t":158,"x":3.0,"y":470,"l":39,"h":2.0e4},
{"t":158,"x":3.2,"y":320,"l":32,"h":1.0e4},
{"t":158,"x":3.5,"y":150,"l":12.6,"h":2800},
{"t":158,"x":3.7,"y":110,"l":7.9,"h":2000},
{"t":158,"x":4.0,"y":33,"l":3.8,"h":790},
{"t":158,"x":4.2,"y":32,"l":2.8,"h":630},
{"t":158,"x":4.4,"y":12.6,"l":2,"h":160},
{"t":158,"x":4.5,"y":7.4,"l":1.26,"h":63},
{"t":158,"x":4.7,"y":2.7,"l":1,"h":20},
{"t":158,"x":4.8,"y":5,"l":0.79,"h":20},
{"t":158,"x":4.9,"y":0.72,"l":0.63,"h":16},
{"t":158,"x":4.95,"y":1e-7},
{"t":158,"x":5.12,"y":1e-7},
{"t":158,"x":5.15,"y":0.07},
{"t":158,"x":5.2,"y":1e-7},
{"t":128,"x":2,"y":1.55e-3,"l":5.6e-4,"h":0.018},
{"t":128,"x":2.1,"y":2.5e-3,"l":2.5e-4,"h":0.026},
{"t":128,"x":2.15,"y":5e-3,"l":1.8e-4,"h":0.022},
{"t":128,"x":2.35,"y":1.4e-3,"l":3.2e-4,"h":0.0126},
{"t":128,"x":2.5,"y":3.2e-3,"l":1.26e-4,"h":0.011},
{"t":128,"x":2.7,"y":1.1e-3,"l":7.9e-5,"h":0.0089},
{"t":128,"x":2.9,"y":5.6e-4,"l":5e-5,"h":5.6e-3},
{"t":128,"x":3.0,"y":6.3e-4,"l":5e-5,"h":4.2e-3},
{"t":128,"x":3.2,"y":4.5e-4,"l":5e-5,"h":5e-3},
{"t":128,"x":3.5,"y":5e-4,"l":5e-5,"h":6e-3},
{"t":128,"x":3.75,"y":8.9e-4,"l":5e-5,"h":0.013},
{"t":128,"x":4.0,"y":1e-3,"l":5e-5,"h":7.1e-3},
{"t":128,"x":4.1,"y":6.3e-4,"l":5e-5,"h":4e-3},
{"t":128,"x":4.2,"y":4e-4,"l":5e-5,"h":3.2e-3},
{"t":128,"x":4.33,"y":1.1e-4,"l":3e-5,"h":2.5e-3},
{"t":128,"x":4.5,"y":1.3e-4,"l":3e-5,"h":1.6e-3},
{"t":128,"x":4.8,"y":2.5e-4,"l":3e-5,"h":2e-3},
{"t":128,"x":5.0,"y":2.5e-4,"l":3e-5,"h":2.6e-3},
{"t":128,"x":5.3,"y":3.2e-4,"l":3e-5,"h":3.2e-3},
{"t":128,"x":5.5,"y":5e-4,"l":4e-5,"h":3.5e-3},
{"t":128,"x":5.8,"y":2.5e-4,"l":3e-5,"h":2.8e-3},
{"t":128,"x":6.0,"y":3.2e-4,"l":3e-5,"h":3.5e-3},
{"t":128,"x":6.3,"y":5e-4,"l":4e-5,"h":3.2e-3},
{"t":128,"x":6.5,"y":3.2e-4,"l":3e-5,"h":2.8e-3},
{"t":128,"x":6.8,"y":1.1e-4,"l":2.5e-5,"h":2.5e-3},
{"t":128,"x":7.0,"y":5e-4,"l":4e-5,"h":3.5e-3},
{"t":128,"x":7.3,"y":4.5e-4,"l":4e-5,"h":3.2e-3},
{"t":128,"x":7.5,"y":5e-4,"l":4e-5,"h":6.3e-3},
{"t":128,"x":7.8,"y":4.5e-4,"l":4e-5,"h":6.3e-3},
{"t":128,"x":7.85,"y":1.26e-4},
{"t":128,"x":7.86,"y":1e-7}
]
},
"concat":[
{"width":304,"height":278,"title":{"text":"K29_Hrad","dx":-21,"offset":-1},"layer":[
{"data":{"name":"A"},"mark":{"type":"area","clip":true,"fillOpacity":0.22,"invalid":"filter"},"encoding":{"x":{"field":"x","type":"quantitative","scale":{"domain":[2,10]},"axis":{"values":[2,3,4,5,6,7,8,9,10],"labels":false,"title":null}},"y":{"field":"l","type":"quantitative","scale":{"type":"log","domain":[0.0001,100000000]},"axis":{"values":[0.0001,0.01,1,100,10000,1000000,100000000],"labelExpr":"datum.value > 1e7 ? '10⁸' : datum.value > 1e5 ? '10⁶' : datum.value > 1e3 ? '10⁴' : datum.value > 10 ? '10²' : datum.value > 0.1 ? '10⁰' : datum.value > 1e-3 ? '10⁻²' : '10⁻⁴'","title":"N(C-II)/N(C-IV)","labelFlush":false,"labelOverlap":false}},"y2":{"field":"h"},"color":{"field":"t","type":"quantitative","scale":{"scheme":"plasma","domain":[126,190]},"legend":null}}},
{"data":{"values":[{}]},"mark":{"type":"rect","color":"#93c586"},"encoding":{"x":{"datum":2,"type":"quantitative"},"x2":{"datum":10},"y":{"datum":0.33,"type":"quantitative"},"y2":{"datum":0.65}}},
{"data":{"name":"A"},"mark":{"type":"line","clip":true,"strokeWidth":1.6,"invalid":"filter"},"encoding":{"x":{"field":"x","type":"quantitative"},"y":{"field":"y","type":"quantitative"},"color":{"field":"t","type":"quantitative","scale":{"scheme":"plasma","domain":[126,190]},"legend":null}}}
]},
{"width":304,"height":278,"title":{"text":"K28_Hrad","dx":-2,"offset":6},"layer":[
{"data":{"name":"B"},"mark":{"type":"area","clip":true,"fillOpacity":0.22,"invalid":"filter"},"encoding":{"x":{"field":"x","type":"quantitative","scale":{"domain":[2,10]},"axis":{"values":[2,3,4,5,6,7,8,9,10],"labels":false,"title":null}},"y":{"field":"l","type":"quantitative","scale":{"type":"log","domain":[0.0001,100000000]},"axis":{"values":[0.0001,0.01,1,100,10000,1000000,100000000],"labels":false,"title":null}},"y2":{"field":"h"},"color":{"field":"t","type":"quantitative","scale":{"scheme":"plasma","domain":[126,190]},"legend":null}}},
{"data":{"values":[{}]},"mark":{"type":"rect","color":"#93c586"},"encoding":{"x":{"datum":2,"type":"quantitative"},"x2":{"datum":10},"y":{"datum":0.33,"type":"quantitative"},"y2":{"datum":0.65}}},
{"data":{"name":"B"},"mark":{"type":"line","clip":true,"strokeWidth":1.6,"invalid":"filter"},"encoding":{"x":{"field":"x","type":"quantitative"},"y":{"field":"y","type":"quantitative"},"color":{"field":"t","type":"quantitative","scale":{"scheme":"plasma","domain":[126,190]},"legend":null}}}
]},
{"width":304,"height":278,"title":{"text":"K28","dx":3,"offset":6},"layer":[
{"data":{"name":"C"},"mark":{"type":"area","clip":true,"fillOpacity":0.22,"invalid":"filter"},"encoding":{"x":{"field":"x","type":"quantitative","scale":{"domain":[2,10]},"axis":{"values":[2,3,4,5,6,7,8,9,10],"labels":false,"title":null}},"y":{"field":"l","type":"quantitative","scale":{"type":"log","domain":[0.0001,100000000]},"axis":{"values":[0.0001,0.01,1,100,10000,1000000,100000000],"labels":false,"title":null}},"y2":{"field":"h"},"color":{"field":"t","type":"quantitative","scale":{"scheme":"plasma","domain":[126,190]},"legend":null}}},
{"data":{"values":[{}]},"mark":{"type":"rect","color":"#93c586"},"encoding":{"x":{"datum":2,"type":"quantitative"},"x2":{"datum":10},"y":{"datum":0.33,"type":"quantitative"},"y2":{"datum":0.65}}},
{"data":{"name":"C"},"mark":{"type":"line","clip":true,"strokeWidth":1.6,"invalid":"filter"},"encoding":{"x":{"field":"x","type":"quantitative"},"y":{"field":"y","type":"quantitative"},"color":{"field":"t","type":"quantitative","scale":{"scheme":"plasma","domain":[126,190]},"legend":null}}}
]},
{"width":14,"height":278,"title":{"text":"Myr","fontSize":12,"anchor":"start","dx":-14,"offset":-1},"data":{"name":"bar"},"mark":{"type":"rect","strokeWidth":0.6},"encoding":{"y":{"field":"v","type":"quantitative","scale":{"domain":[126,190],"nice":false,"zero":false},"axis":{"orient":"right","values":[130,140,150,160,170,180,190],"title":null,"labelFontSize":12,"labelFlush":false}},"y2":{"field":"w"},"color":{"field":"v","type":"quantitative","scale":{"scheme":"plasma","domain":[126,190]},"legend":null},"stroke":{"field":"v","type":"quantitative","scale":{"scheme":"plasma","domain":[126,190]},"legend":null}}},
{"width":304,"height":278,"title":{"text":"K29_Hrad_Hcr","dx":-7,"offset":1},"layer":[
{"data":{"name":"D"},"mark":{"type":"area","clip":true,"fillOpacity":0.22,"invalid":"filter"},"encoding":{"x":{"field":"x","type":"quantitative","scale":{"domain":[2,10]},"axis":{"values":[2,3,4,5,6,7,8,9,10],"title":"Height [kpc]","labelFlush":false,"labelOverlap":false}},"y":{"field":"l","type":"quantitative","scale":{"type":"log","domain":[0.0001,100000000]},"axis":{"values":[0.0001,0.01,1,100,10000,1000000,100000000],"labelExpr":"datum.value > 1e7 ? '10⁸' : datum.value > 1e5 ? '10⁶' : datum.value > 1e3 ? '10⁴' : datum.value > 10 ? '10²' : datum.value > 0.1 ? '10⁰' : datum.value > 1e-3 ? '10⁻²' : '10⁻⁴'","title":"N(C-II)/N(C-IV)","labelFlush":false,"labelOverlap":false}},"y2":{"field":"h"},"color":{"field":"t","type":"quantitative","scale":{"scheme":"plasma","domain":[126,190]},"legend":null}}},
{"data":{"values":[{}]},"mark":{"type":"rect","color":"#b3d7a5"},"encoding":{"x":{"datum":2,"type":"quantitative","axis":{"values":[2,3,4,5,6,7,8,9,10],"title":"Height [kpc]","labelFlush":false,"labelOverlap":false}},"x2":{"datum":10},"y":{"datum":0.33,"type":"quantitative"},"y2":{"datum":0.65}}},
{"data":{"name":"D"},"mark":{"type":"line","clip":true,"strokeWidth":1.6,"invalid":"filter"},"encoding":{"x":{"field":"x","type":"quantitative","axis":{"values":[2,3,4,5,6,7,8,9,10],"title":"Height [kpc]","labelFlush":false,"labelOverlap":false}},"y":{"field":"y","type":"quantitative"},"color":{"field":"t","type":"quantitative","scale":{"scheme":"plasma","domain":[126,190]},"legend":null}}}
]},
{"width":304,"height":278,"title":{"text":"K28_Hrad_Hcr","dx":-21,"offset":8},"layer":[
{"data":{"name":"E"},"mark":{"type":"area","clip":true,"fillOpacity":0.22,"invalid":"filter"},"encoding":{"x":{"field":"x","type":"quantitative","scale":{"domain":[2,10]},"axis":{"values":[2,3,4,5,6,7,8,9,10],"title":"Height [kpc]","labelFlush":false,"labelOverlap":false}},"y":{"field":"l","type":"quantitative","scale":{"type":"log","domain":[0.0001,100000000]},"axis":{"values":[0.0001,0.01,1,100,10000,1000000,100000000],"labels":false,"title":null}},"y2":{"field":"h"},"color":{"field":"t","type":"quantitative","scale":{"scheme":"plasma","domain":[126,190]},"legend":null}}},
{"data":{"values":[{}]},"mark":{"type":"rect","color":"#93c586"},"encoding":{"x":{"datum":2,"type":"quantitative","axis":{"values":[2,3,4,5,6,7,8,9,10],"title":"Height [kpc]","labelFlush":false,"labelOverlap":false}},"x2":{"datum":10},"y":{"datum":0.33,"type":"quantitative"},"y2":{"datum":0.65}}},
{"data":{"name":"E"},"mark":{"type":"line","clip":true,"strokeWidth":1.6,"invalid":"filter"},"encoding":{"x":{"field":"x","type":"quantitative","axis":{"values":[2,3,4,5,6,7,8,9,10],"title":"Height [kpc]","labelFlush":false,"labelOverlap":false}},"y":{"field":"y","type":"quantitative"},"color":{"field":"t","type":"quantitative","scale":{"scheme":"plasma","domain":[126,190]},"legend":null}}}
]},
{"width":304,"height":278,"title":{"text":"K28_Hcr","dx":-2,"offset":8},"layer":[
{"data":{"name":"F"},"mark":{"type":"area","clip":true,"fillOpacity":0.22,"invalid":"filter"},"encoding":{"x":{"field":"x","type":"quantitative","scale":{"domain":[2,10]},"axis":{"values":[2,3,4,5,6,7,8,9,10],"title":"Height [kpc]","labelFlush":false,"labelOverlap":false}},"y":{"field":"l","type":"quantitative","scale":{"type":"log","domain":[0.0001,100000000]},"axis":{"values":[0.0001,0.01,1,100,10000,1000000,100000000],"labels":false,"title":null}},"y2":{"field":"h"},"color":{"field":"t","type":"quantitative","scale":{"scheme":"plasma","domain":[126,190]},"legend":null}}},
{"data":{"values":[{}]},"mark":{"type":"rect","color":"#93c586"},"encoding":{"x":{"datum":2,"type":"quantitative","axis":{"values":[2,3,4,5,6,7,8,9,10],"title":"Height [kpc]","labelFlush":false,"labelOverlap":false}},"x2":{"datum":10},"y":{"datum":0.33,"type":"quantitative"},"y2":{"datum":0.65}}},
{"data":{"name":"F"},"mark":{"type":"line","clip":true,"strokeWidth":1.6,"invalid":"filter"},"encoding":{"x":{"field":"x","type":"quantitative","axis":{"values":[2,3,4,5,6,7,8,9,10],"title":"Height [kpc]","labelFlush":false,"labelOverlap":false}},"y":{"field":"y","type":"quantitative"},"color":{"field":"t","type":"quantitative","scale":{"scheme":"plasma","domain":[126,190]},"legend":null}}}
]},
{"width":14,"height":278,"title":{"text":"Myr","fontSize":12,"anchor":"start","dx":-14,"offset":-1},"data":{"name":"bar"},"mark":{"type":"rect","strokeWidth":0.6},"encoding":{"y":{"field":"v","type":"quantitative","scale":{"domain":[126,190],"nice":false,"zero":false},"axis":{"orient":"right","values":[130,140,150,160,170,180,190],"title":null,"labelFontSize":12,"labelFlush":false}},"y2":{"field":"w"},"color":{"field":"v","type":"quantitative","scale":{"scheme":"plasma","domain":[126,190]},"legend":null},"stroke":{"field":"v","type":"quantitative","scale":{"scheme":"plasma","domain":[126,190]},"legend":null}}}
]
}
